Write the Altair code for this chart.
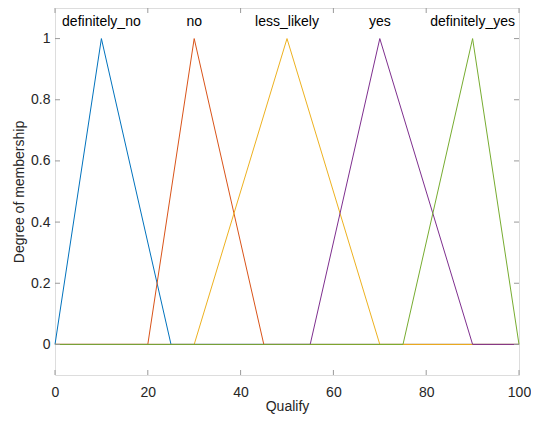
import altair as alt
import pandas as pd

names = ["definitely_no", "no", "less_likely", "yes", "definitely_yes"]
feet_left = [0, 20, 30, 55, 75]
peaks = [10, 30, 50, 70, 90]
feet_right = [25, 45, 70, 90, 100]
colors = ["#0072BD", "#D95319", "#EDB120", "#7E2F8E", "#77AC30"]
x_ticks = [0, 20, 40, 60, 80, 100]
y_ticks = [0, 0.2, 0.4, 0.6, 0.8, 1]
x_range = [0, 100]
label_y = 1.055

W, H = 464, 367
FONT = "Liberation Sans"
TXT = "#262626"
AX = "#9a9a9a"

rows = []
for n, a, b, c in zip(names, feet_left, peaks, feet_right):
    pts = [(x_range[0], 0), (a, 0), (b, 1), (c, 0), (x_range[1], 0)]
    clean = []
    for p in pts:
        if not clean or clean[-1][0] != p[0]:
            clean.append(p)
    for i, (x, y) in enumerate(clean):
        rows.append({"name": n, "x": x, "y": y, "order": i})
df = pd.DataFrame(rows)

xs = alt.Scale(domain=[0, 100], nice=False, zero=False)
ys = alt.Scale(domain=[-0.1, 1.1], nice=False, zero=False)

layers = []
for i, (n, col) in enumerate(zip(names, colors)):
    sub = df[df["name"] == n]
    enc = dict(
        x=alt.X("x:Q", scale=xs, title="Qualify",
                axis=alt.Axis(values=x_ticks, tickSize=0, domain=False, grid=False,
                              labelPadding=10, titlePadding=0, labelFontSize=14,
                              titleFontSize=14, labelColor=TXT, titleColor=TXT,
                              titleFontWeight="normal", labelFont=FONT, titleFont=FONT,
                              format="d", labelFlush=False)),
        y=alt.Y("y:Q", scale=ys, title="Degree of membership",
                axis=alt.Axis(values=y_ticks, tickSize=0, domain=False, grid=False,
                              labelPadding=5, titlePadding=4, labelFontSize=14,
                              titleFontSize=14, labelColor=TXT, titleColor=TXT,
                              titleFontWeight="normal", labelFont=FONT, titleFont=FONT,
                              format="~r", labelFlush=False)),
        order="order:Q",
    )
    layers.append(alt.Chart(sub).mark_line(color=col, strokeWidth=1).encode(**enc))

lab_df = pd.DataFrame({"name": names, "x": peaks, "y": [label_y] * len(names)})
labels = alt.Chart(lab_df).mark_text(fontSize=14, font=FONT, color="#000000",
                                     baseline="middle", align="center").encode(
    x=alt.X("x:Q", scale=xs), y=alt.Y("y:Q", scale=ys), text="name:N")

xt = pd.DataFrame({"v": x_ticks})
yt = pd.DataFrame({"v": y_ticks})
tick_len = 5
tb = alt.Chart(xt).mark_rule(color=AX, strokeWidth=1).encode(
    x=alt.X("v:Q", scale=xs), y=alt.value(H), y2=alt.value(H - tick_len))
tt = alt.Chart(xt).mark_rule(color=AX, strokeWidth=1).encode(
    x=alt.X("v:Q", scale=xs), y=alt.value(0), y2=alt.value(tick_len))
tl = alt.Chart(yt).mark_rule(color=AX, strokeWidth=1).encode(
    y=alt.Y("v:Q", scale=ys), x=alt.value(0), x2=alt.value(tick_len))
tr = alt.Chart(yt).mark_rule(color=AX, strokeWidth=1).encode(
    y=alt.Y("v:Q", scale=ys), x=alt.value(W), x2=alt.value(W - tick_len))

chart = alt.layer(*layers, labels, tb, tt, tl, tr).properties(
    width=W, height=H,
    autosize=alt.AutoSizeParams(type="none"),
    padding={"left": 47, "top": 0, "right": 12, "bottom": 40},
    background="white",
).configure_view(stroke=AX, strokeWidth=1).configure(font=FONT)

chart.save("out.html", embed_options={"renderer": "svg", "actions": False})
